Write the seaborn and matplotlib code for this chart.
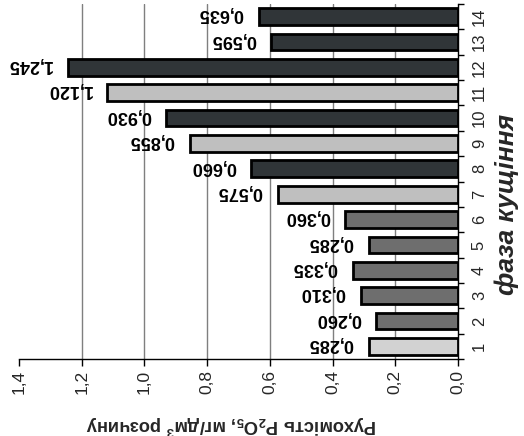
import matplotlib
matplotlib.use("Agg")
import matplotlib.pyplot as plt
import seaborn as sns
import pandas as pd
from matplotlib.ticker import FixedLocator, FuncFormatter

# Phase sample numbers and mobile P2O5 content
categories = [str(i) for i in range(1, 15)]
values = [0.285, 0.260, 0.310, 0.335, 0.285, 0.360, 0.575,
          0.660, 0.855, 0.930, 1.120, 1.245, 0.595, 0.635]
value_labels = ["0,285", "0,260", "0,310", "0,335", "0,285", "0,360", "0,575",
                "0,660", "0,855", "0,930", "1,120", "1,245", "0,595", "0,635"]
bar_colors = ["#d2d2d2", "#6e6e6e", "#6e6e6e", "#6e6e6e", "#6e6e6e", "#6e6e6e", "#bfbfbf",
              "#303538", "#bfbfbf", "#303538", "#bfbfbf", "#303538", "#303538", "#303538"]
value_ticks = [0.0, 0.2, 0.4, 0.6, 0.8, 1.0, 1.2, 1.4]

sns.set_theme(style="white")
plt.rcParams["font.family"] = ["Liberation Sans", "DejaVu Sans"]
plt.rcParams["mathtext.fontset"] = "custom"
plt.rcParams["mathtext.rm"] = "Liberation Sans:bold"
plt.rcParams["mathtext.default"] = "rm"

df = pd.DataFrame({"cat": categories, "val": values})

fig = plt.figure(figsize=(5.24, 4.36), dpi=100)
ax = fig.add_axes([0.0363, 0.1766, 0.874 - 0.0363, 0.9908 - 0.1766])

sns.barplot(data=df, x="val", y="cat", hue="cat", order=categories[::-1],
            palette=dict(zip(categories, bar_colors)), legend=False,
            orient="h", width=0.66, edgecolor="black", linewidth=2.0,
            saturation=1, ax=ax, zorder=3)

ax.set_xlim(1.4, 0.0)
ax.set_ylim(13.5, -0.5)

# value axis
ax.xaxis.set_major_locator(FixedLocator(value_ticks))
ax.xaxis.set_major_formatter(FuncFormatter(lambda v, p: f"{v:.1f}".replace(".", ",")))
ax.tick_params(axis="x", direction="out", length=5, width=1, color="black",
               labelsize=12.5, labelrotation=90, pad=3, bottom=True)
for t in value_ticks:
    if 0 < t < 1.4:
        ax.axvline(t, color="#7f7f7f", lw=1.0, zorder=1)

# category axis on the right
ax.yaxis.tick_right()
ax.yaxis.set_label_position("right")
ax.set_yticks(range(14))
ax.set_yticklabels(categories[::-1], rotation=90, va="center", fontsize=12)
ax.yaxis.set_minor_locator(FixedLocator([i + 0.5 for i in range(-1, 14)]))
ax.tick_params(axis="y", which="major", length=0, pad=10, right=False, labelright=True)
ax.tick_params(axis="y", which="minor", length=4, width=1, color="black",
               direction="out", right=True, left=False)

for side in ["top", "left"]:
    ax.spines[side].set_visible(False)
for side in ["bottom", "right"]:
    ax.spines[side].set_visible(True)
    ax.spines[side].set_color("black")
    ax.spines[side].set_linewidth(1.0)

ax.set_xlabel(r"Рухомість P$_2$O$_5$, мг/дм$^3$ розчину", fontsize=13.2,
              fontweight="bold", rotation=180, va="center", ha="center")
ax.xaxis.set_label_coords(0.483, -0.185)
ax.set_ylabel("фаза кущіння", fontsize=19, fontweight="bold", style="italic",
              rotation=90, va="center", ha="center")
ax.yaxis.set_label_coords(1.11, 0.434)
ax.set_title("")

# value labels beside the bar ends
pos = {c: i for i, c in enumerate(categories[::-1])}
for c, v, lab in zip(categories, values, value_labels):
    ax.annotate(lab, xy=(v, pos[c]), xytext=(-11, 2), textcoords="offset points",
                rotation=180, ha="right", va="center", fontsize=13,
                fontweight="bold", color="black", zorder=5)

fig.savefig("out.png", dpi=100)
